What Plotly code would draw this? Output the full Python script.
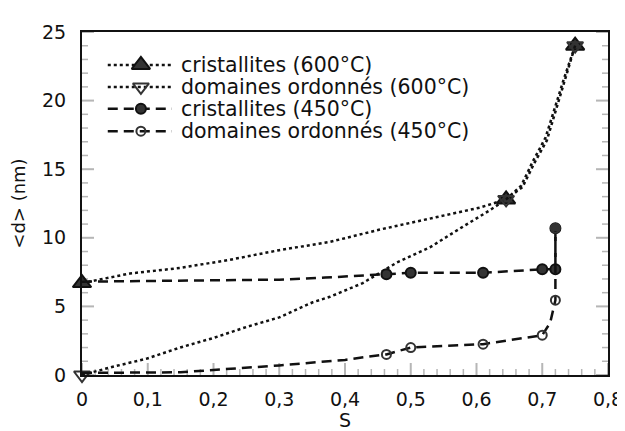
import plotly.graph_objects as go

# points mesurés
s_600 = [0, 0.645, 0.75]
d_crist_600 = [6.7, 12.8, 24.0]
d_dom_600 = [0.0, 12.8, 24.0]

s_450 = [0.463, 0.50, 0.61, 0.70, 0.72, 0.72]
d_crist_450 = [7.35, 7.45, 7.45, 7.7, 7.7, 10.7]
d_dom_450 = [1.5, 2.0, 2.25, 2.9, 5.45, 10.7]

# tracé des courbes
s_c600_curve = [0, 0.073, 0.149, 0.225, 0.30, 0.377, 0.453, 0.529, 0.605, 0.645,
                0.67, 0.688, 0.707, 0.722, 0.734, 0.75]
d_c600_curve = [6.7, 7.4, 7.8, 8.4, 9.1, 9.7, 10.6, 11.4, 12.2, 12.8,
                13.7, 15.45, 17.1, 19.5, 21.5, 24.0]
s_d600_curve = [0, 0.047, 0.099, 0.149, 0.20, 0.25, 0.30, 0.351, 0.377, 0.427, 0.479,
                0.529, 0.579, 0.62, 0.645, 0.668, 0.686, 0.705, 0.72, 0.733, 0.75]
d_d600_curve = [0, 0.6, 1.2, 2.0, 2.7, 3.5, 4.2, 5.3, 5.7, 6.7, 8.2,
                9.3, 10.8, 12.0, 12.8, 13.8, 15.6, 17.3, 19.6, 21.6, 24.0]
s_c450_curve = [0, 0.15, 0.30, 0.37, 0.463, 0.50, 0.61, 0.70, 0.72, 0.72]
d_c450_curve = [6.8, 6.85, 6.95, 7.1, 7.35, 7.45, 7.45, 7.7, 7.7, 10.7]
s_d450_curve = [0, 0.15, 0.30, 0.37, 0.40, 0.43, 0.463, 0.50, 0.61, 0.70, 0.712, 0.72, 0.72]
d_d450_curve = [0.15, 0.2, 0.7, 0.95, 1.1, 1.3, 1.5, 2.0, 2.25, 2.9, 3.8, 5.45, 10.7]

noms = ["cristallites (600°C)", "domaines ordonnés (600°C)",
        "cristallites (450°C)", "domaines ordonnés (450°C)"]

# graduations
x_major = [0, 0.1, 0.2, 0.3, 0.4, 0.5, 0.6, 0.7, 0.8]
y_major = [0, 5, 10, 15, 20, 25]
x_minor = [i / 50 for i in range(41) if i % 5]
y_minor = [i for i in range(26) if i % 5]

noir = "#111111"
pointille = "dot"
tirets = "10px,6px"

series = [
    # nom, courbe x, courbe y, points x, points y, symbole, taille, dash
    (noms[0], s_c600_curve, d_c600_curve, s_600, d_crist_600, "triangle-up", 16, pointille),
    (noms[1], s_d600_curve, d_d600_curve, s_600, d_dom_600, "triangle-down-open", 14, pointille),
    (noms[2], s_c450_curve, d_c450_curve, s_450, d_crist_450, "circle", 10, tirets),
    (noms[3], s_d450_curve, d_d450_curve, s_450, d_dom_450, "circle-open", 9, tirets),
]

fig = go.Figure()
for nom, cx, cy, px, py_, sym, taille, dash in series:
    fig.add_trace(go.Scatter(x=cx, y=cy, mode="lines", showlegend=False,
                             line=dict(color=noir, width=2.5, dash=dash)))
    fig.add_trace(go.Scatter(x=px, y=py_, mode="markers", showlegend=False, cliponaxis=False,
                             marker=dict(symbol=sym, size=taille, color="#333333",
                                         line=dict(color=noir, width=2))))

# légende dessinée à la main (axes superposés 0..1) pour garder l'interligne serré
leg_y = [0.904, 0.84, 0.776, 0.711]
leg_x0, leg_xm, leg_x1, leg_xt = 0.049, 0.112, 0.171, 0.184
for i, (nom, cx, cy, px, py_, sym, taille, dash) in enumerate(series):
    fig.add_trace(go.Scatter(x=[leg_x0, leg_x1], y=[leg_y[i], leg_y[i]], mode="lines",
                             xaxis="x2", yaxis="y2", showlegend=False, hoverinfo="skip",
                             line=dict(color=noir, width=2.5, dash=dash)))
    fig.add_trace(go.Scatter(x=[leg_xm], y=[leg_y[i]], mode="markers",
                             xaxis="x2", yaxis="y2", showlegend=False, hoverinfo="skip",
                             marker=dict(symbol=sym, size=taille, color="#333333",
                                         line=dict(color=noir, width=2))))
    fig.add_annotation(x=leg_xt, y=leg_y[i], xref="x2", yref="y2", text=nom,
                       showarrow=False, xanchor="left", yanchor="middle",
                       font=dict(family="DejaVu Sans", size=20.5, color=noir))

# graduations intérieures (bas, gauche et droite) tracées en formes
def tick_x(v, long, larg):
    fig.add_shape(type="line", xref="x", yref="paper", x0=v, x1=v,
                  ysizemode="pixel", yanchor=0, y0=0, y1=long,
                  line=dict(color=noir, width=larg), layer="above")

def tick_y(v, long, larg, cote):
    sens = 1 if cote == 0 else -1
    fig.add_shape(type="line", xref="paper", yref="y", y0=v, y1=v,
                  xsizemode="pixel", xanchor=cote, x0=0, x1=sens * long,
                  line=dict(color=noir, width=larg), layer="above")

for v in x_major:
    tick_x(v, 12, 2)
for v in x_minor:
    tick_x(v, 6, 1.5)
for cote in (0, 1):
    for v in y_major:
        tick_y(v, 12, 2, cote)
    for v in y_minor:
        tick_y(v, 6, 1.5, cote)

police = dict(family="DejaVu Sans", size=19, color=noir)

# la page html ajoute 8 px de marge : on compense dans les marges
fig.update_layout(
    template="simple_white",
    width=617, height=423,
    margin=dict(l=74, r=17, t=24, b=56),
    paper_bgcolor="white", plot_bgcolor="white",
    separators=", ",
    font=police,
    showlegend=False,
    xaxis=dict(range=[0, 0.8], tickmode="linear", dtick=0.1, tick0=0,
               ticks="", showline=True, linewidth=2, linecolor=noir, ticklabelstandoff=6,
               mirror=True, showgrid=False, zeroline=False, automargin=False,
               title=dict(text="S", standoff=2, font=police)),
    yaxis=dict(range=[0, 25], tickmode="linear", dtick=5, tick0=0,
               ticks="", showline=True, linewidth=2, linecolor=noir, ticklabelstandoff=10,
               mirror=True, showgrid=False, zeroline=False, automargin=False,
               title=dict(text="<d> (nm)", standoff=14,
                          font=dict(family="DejaVu Sans", size=18, color=noir))),
    xaxis2=dict(range=[0, 1], overlaying="x", visible=False, fixedrange=True),
    yaxis2=dict(range=[0, 1], overlaying="y", visible=False, fixedrange=True),
)

fig.write_html("out.html")
